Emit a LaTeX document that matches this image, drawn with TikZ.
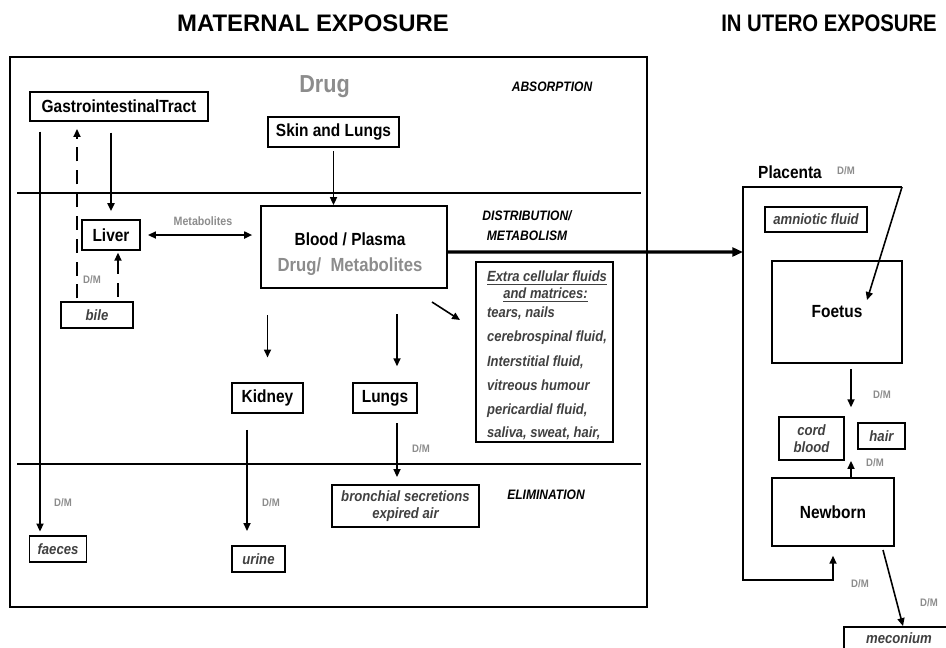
\documentclass[tikz,border=0pt]{standalone}
\usepackage{fontspec}
\setmainfont{Liberation Sans}
\newfontfamily\narrowsf{Liberation Sans}[FakeStretch=0.88]
\newfontfamily\titlesf{Liberation Sans}[FakeStretch=0.85]
\usetikzlibrary{arrows.meta}
\tikzset{
    mybox/.style = {draw=black, line width=1.1pt, inner sep=1pt, align=center, font=\narrowsf\bfseries\fontsize{10}{12}\selectfont, text=black},
    myboxi/.style = {mybox, font=\narrowsf\bfseries\itshape\fontsize{8.5}{10}\selectfont, text=black!75},
    mytext/.style = {font=\narrowsf\bfseries\fontsize{10}{12}\selectfont, text=black},
    mytitle/.style = {font=\bfseries\fontsize{13.6}{16}\selectfont, text=black},
    myphase/.style = {align=center, font=\narrowsf\bfseries\itshape\fontsize{7.8}{9.4}\selectfont, text=black},
    mydm/.style = {font=\narrowsf\bfseries\fontsize{6.2}{7}\selectfont, text=black!45},
    edgen/.style = {-{Triangle[length=4.5pt,width=4pt]}, line width=0.9pt, black},
    edged/.style = {edgen, dash pattern=on 8pt off 5pt},
    edgeb/.style = {{Triangle[length=4.5pt,width=4pt]}-{Triangle[length=4.5pt,width=4pt]}, line width=0.9pt, black},
    edget/.style = {-{Triangle[length=6pt,width=5pt]}, line width=1.8pt, black},
    secline/.style = {line width=1.1pt, black}
}
\begin{document}
\begin{tikzpicture}[x=0.02cm,y=-0.02cm]
\useasboundingbox (0,0) rectangle (946,647);
% titles
\node[mytitle] (mat) at (313,23) {MATERNAL EXPOSURE};
\node[mytitle, anchor=east, font=\titlesf\bfseries\fontsize{13.6}{16}\selectfont] (utero) at (943,23) {IN UTERO EXPOSURE};

% maternal frame and phases
\draw[secline] (10,57) rectangle (647,607);
\draw[secline] (17,193) -- (641,193);
\draw[secline] (17,464) -- (641,464);
\node[font=\narrowsf\bfseries\fontsize{14}{16}\selectfont, text=black!45] (drug) at (324.5,87) {Drug};
\node[myphase] (abs) at (552,87) {ABSORPTION};
\node[myphase] (dist) at (527,226) {DISTRIBUTION/\\[2pt]METABOLISM};
\node[myphase] (elim) at (546,495) {ELIMINATION};

%
\node[mybox, minimum width=3.56cm, minimum height=0.58cm] (gi) at (119,106.5) {GastrointestinalTract};
\node[mybox, minimum width=2.62cm, minimum height=0.60cm] (skin) at (333.5,132) {Skin and Lungs};
\node[mybox, minimum width=1.16cm, minimum height=0.60cm] (liver) at (111,235) {Liver};
\node[myboxi, minimum width=1.44cm, minimum height=0.52cm] (bile) at (97,315) {bile};
\node[mybox, minimum width=3.72cm, minimum height=1.64cm] (blood) at (354,247) {};
\node[mytext] (bloodt) at (350,239) {Blood / Plasma};
\node[mytext, font=\narrowsf\bfseries\fontsize{10.8}{12}\selectfont, text=black!45] (bloodm) at (350,267) {Drug/\ \ Metabolites};
\node[mybox, minimum width=1.42cm, minimum height=0.60cm] (kidney) at (267.5,398) {Kidney};
\node[mybox, minimum width=1.28cm, minimum height=0.60cm] (lungs) at (385,398) {Lungs};
\node[myboxi, minimum width=2.94cm, minimum height=0.84cm] (bronch) at (405.5,506) {bronchial secretions\\expired air};
\node[myboxi, minimum width=1.14cm, minimum height=0.52cm] (faeces) at (58,549) {faeces};
\node[myboxi, minimum width=1.06cm, minimum height=0.52cm] (urine) at (258.5,559) {urine};
\node[mybox, minimum width=2.74cm, minimum height=3.60cm] (ecf) at (544.5,352) {};
\node[align=left, text=black!75, font=\narrowsf\bfseries\itshape\fontsize{8.4}{9.8}\selectfont] (ecft) at (547,355) {\underline{Extra cellular fluids}\\\hspace*{1.1em}\underline{and matrices:}\\[1pt]tears, nails\\[4pt]cerebrospinal fluid,\\[4pt]Interstitial fluid,\\[4pt]vitreous humour\\[4pt]pericardial fluid,\\[3pt]saliva, sweat, hair,};

% in utero side
\node[mytext] (plac) at (790,172) {Placenta};
\node[myboxi, minimum width=2.04cm, minimum height=0.50cm] (amnio) at (816,219.5) {amniotic fluid};
\node[mybox, minimum width=2.60cm, minimum height=2.04cm] (foetus) at (837,312) {Foetus};
\node[myboxi, minimum width=1.30cm, minimum height=0.86cm] (cord) at (811.5,438.5) {cord\\blood};
\node[myboxi, minimum width=0.94cm, minimum height=0.52cm] (hair) at (881.5,436) {hair};
\node[mybox, minimum width=2.44cm, minimum height=1.36cm] (newborn) at (833,512) {Newborn};
\node[myboxi, minimum width=2.20cm, minimum height=0.44cm] (meco) at (899,638) {meconium};

% labels
\node[font=\narrowsf\bfseries\fontsize{6.9}{8}\selectfont, text=black!45] (metab) at (203,221) {Metabolites};
\node[mydm] (dm1) at (92,280) {D/M};
\node[mydm] (dm2) at (63,503) {D/M};
\node[mydm] (dm3) at (271,503) {D/M};
\node[mydm] (dm4) at (421,449) {D/M};
\node[mydm] (dm5) at (846,171) {D/M};
\node[mydm] (dm6) at (882,395) {D/M};
\node[mydm] (dm7) at (875,463) {D/M};
\node[mydm] (dm8) at (860,584) {D/M};
\node[mydm] (dm9) at (929,603) {D/M};

% connector ends
\coordinate (gf) at (40,121);
\coordinate (bg) at (77,302);
\coordinate (bl) at (118,302);
\coordinate (bL) at (397,288);
\coordinate (de1) at (432,302);
\coordinate (de2) at (460,320);
\coordinate (ku) at (247,413);
\coordinate (lb) at (397,413);
\coordinate (plw) at (743,252);
\coordinate (pne) at (902,187);
\coordinate (pnw) at (743,187);
\coordinate (psw) at (743,580);
\coordinate (fin) at (867,300);
\coordinate (fc) at (851,363);
\coordinate (nc) at (851,478);
\coordinate (nm) at (883,550);

%
\draw[edgen, shorten <=6pt, shorten >=2pt] (gf) -- (gf |- faeces.north);
\draw[edged, shorten <=2pt, shorten >=4pt] (bg) -- (bg |- gi.south);
\draw[edgen, shorten <=6pt, shorten >=4.5pt] (liver.north |- gi.south) -- (liver.north);
\draw[edged, shorten <=3pt, shorten >=1pt] (bl) -- (bl |- liver.south);
\draw[edgeb, shorten <=4pt, shorten >=4.5pt] (liver.east) -- (liver.east -| blood.west);
\draw[edgen, shorten <=2pt] (skin.south) -- (skin.south |- blood.north);
\draw[edgen, shorten <=15pt, shorten >=14pt] (kidney.north |- blood.south) -- (kidney.north);
\draw[edgen, shorten <=15pt, shorten >=9pt] (bL) -- (bL |- lungs.north);
\draw[edgen] (de1) -- (de2);
\draw[edgen, shorten <=9.6pt, shorten >=8pt] (ku) -- (ku |- urine.north);
\draw[edgen, shorten <=5.7pt, shorten >=4pt] (lb) -- (lb |- bronch.north);
\draw[edget] ([yshift=-0.1cm]blood.east) -- (plw);

\draw[edgen] (pne) -- (fin);
\draw[edgen, line join=miter, shorten >=5pt] (pne) -- (pnw) -- (psw) -| (newborn.south);
\draw[edgen, shorten <=3.4pt, shorten >=5pt] (fc) -- (fc |- cord.north);
\draw[edgen] (nc) -- (nc |- cord.south);
\draw[edgen] (nm) -- ([xshift=0.08cm]meco.north);

\end{tikzpicture}
\end{document}
